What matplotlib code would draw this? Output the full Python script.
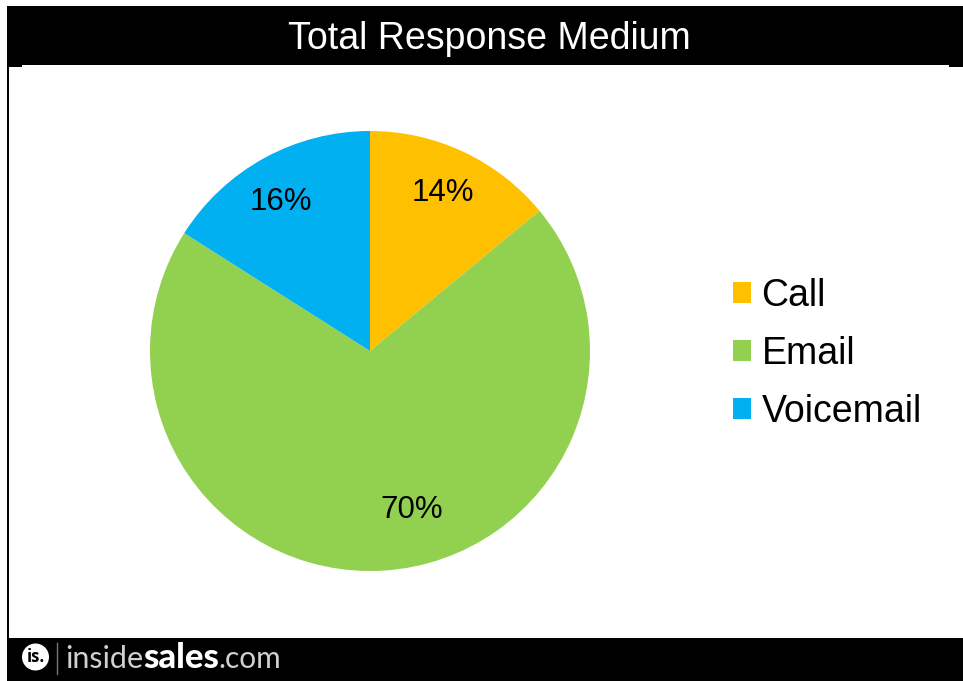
import matplotlib.pyplot as plt
from matplotlib.patches import Rectangle, Circle

categories = ["Call", "Email", "Voicemail"]
shares = [14, 70, 16]
colors = ["#FFC000", "#92D050", "#00B0F0"]
label_pos = [(443, 193), (412, 510), (281, 202)]

plt.rcParams["font.family"] = ["Liberation Sans", "DejaVu Sans"]

W, H = 963, 681
fig = plt.figure(figsize=(W / 100, H / 100), dpi=100)

# overlay in pixel coordinates for the bars and the footer
page = fig.add_axes([0, 0, 1, 1])
page.set_xlim(0, W)
page.set_ylim(H, 0)
page.axis("off")
page.add_patch(Rectangle((7, 6), W - 7, 59, color="black", lw=0))
page.add_patch(Rectangle((7, 65), 15, 1.5, color="black", lw=0))
page.add_patch(Rectangle((949, 65), 14, 1.5, color="black", lw=0))
page.add_patch(Rectangle((7, 65), 2, 575, color="black", lw=0))
page.add_patch(Rectangle((7, 638), W - 7, 43, color="black", lw=0))
page.text(489, 39, "Total Response Medium", color="white", fontsize=27,
          ha="center", va="center")

# footer logo
page.add_patch(Circle((35.5, 657), 13.5, color="white", lw=0))
page.text(35.5, 657, "is.", color="black", fontsize=12, fontweight="bold",
          family="Open Sans", ha="center", va="center")
page.plot([57, 57], [643, 674], color="#777777", lw=1)
page.text(65, 668, "inside", color="#d0d0d0", fontsize=22, family="Lato",
          ha="left", va="baseline")
page.text(143, 668, "sales", color="white", fontsize=25, family="Lato",
          fontweight="black", ha="left", va="baseline")
page.text(218, 668, ".com", color="#d0d0d0", fontsize=21.5, family="Lato",
          ha="left", va="baseline")

# pie
ax = fig.add_axes([150 / W, 1 - 571 / H, 440 / W, 440 / H])
ax.patch.set_alpha(0)
wedges, _ = ax.pie(shares, colors=colors, startangle=90, counterclock=False,
                   radius=1)
ax.set_xlim(-1, 1)
ax.set_ylim(-1, 1)

for share, (x, y) in zip(shares, label_pos):
    page.text(x, y, f"{share}%", fontsize=22.5, ha="center", va="center",
              zorder=5)
page.set_zorder(2)
page.patch.set_alpha(0)

fig.legend(wedges, categories, loc="center left",
           bbox_to_anchor=(733 / W, 1 - 354 / H), frameon=False, fontsize=27,
           handlelength=0.48, handleheight=0.48, handletextpad=0.28,
           labelspacing=0.58, borderpad=0, borderaxespad=0)

fig.savefig("out.png", dpi=100)
